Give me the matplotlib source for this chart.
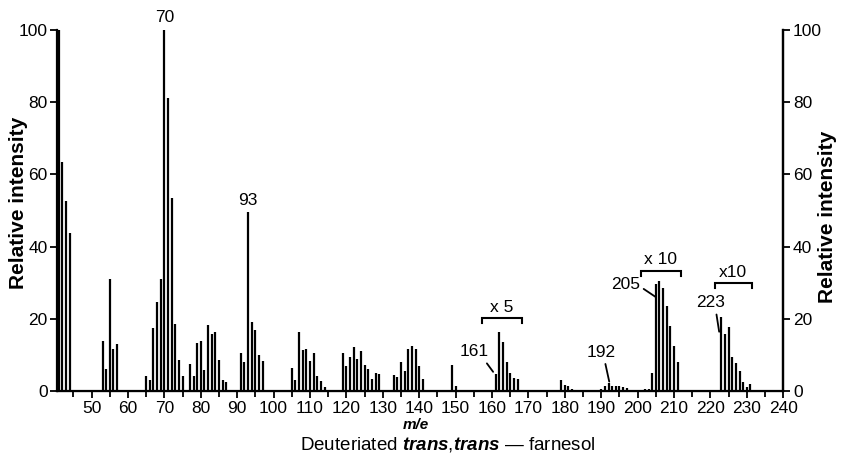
import matplotlib
matplotlib.use("Agg")
import matplotlib.pyplot as plt
import numpy as np

plt.rcParams['font.family'] = ['Liberation Sans', 'DejaVu Sans']
plt.rcParams['mathtext.fontset'] = 'custom'
plt.rcParams['mathtext.it'] = 'Liberation Sans:italic:bold'

# m/e values and relative intensities
# (161 group shown x5, 205 and 223 groups shown x10)
mz = [41, 42, 43, 44,
      53, 54, 55, 56, 57,
      65, 66, 67, 68, 69, 70, 71, 72, 73, 74, 75,
      77, 78, 79, 80, 81, 82, 83, 84, 85, 86, 87,
      91, 92, 93, 94, 95, 96, 97,
      105, 106, 107, 108, 109, 110, 111, 112, 113, 114,
      119, 120, 121, 122, 123, 124, 125, 126, 127, 128, 129,
      133, 134, 135, 136, 137, 138, 139, 140, 141,
      149, 150,
      161, 162, 163, 164, 165, 166, 167,
      179, 180, 181, 182,
      190, 191, 192, 193, 194, 195, 196, 197, 198,
      202, 203, 204, 205, 206, 207, 208, 209, 210, 211,
      223, 224, 225, 226, 227, 228, 229, 230, 231]
intensity = [100, 63.5, 52.5, 43.7,
             13.8, 6, 31, 11.5, 13,
             4.2, 3, 17.5, 24.5, 31, 100, 81, 53.5, 18.5, 8.7, 4.2,
             7.4, 4.2, 13.3, 13.8, 5.8, 18.4, 15.8, 16.4, 8.7, 3.1, 2.5,
             10.5, 8, 49.6, 19.2, 17, 10, 8.2,
             6.4, 3.1, 16.4, 11.3, 11.5, 8.4, 10.5, 4.2, 2.7, 1.2,
             10.4, 7, 9.4, 12.3, 8.8, 11, 7.2, 6, 3.2, 4.9, 4.6,
             4.5, 4, 8, 5.6, 11.6, 12.4, 11.5, 6.9, 3.4,
             7.2, 1.5,
             4.7, 16.3, 13.6, 8.1, 5.1, 3.6, 3.4,
             3, 1.6, 1.3, 0.6,
             0.6, 1.5, 2.2, 1.5, 1.3, 1.3, 1.1, 0.8, 0.4,
             0.5, 0.6, 5, 29.5, 30.5, 28.5, 23.5, 18, 12.5, 8,
             20.5, 15.8, 17.7, 9.3, 7.8, 5.4, 2.4, 1.1, 2]

peak_labels = [70, 93]
magnified = [(157.2, 168.3, 'x 5'), (200.9, 211.9, 'x 10'), (221.2, 231.3, 'x10')]
x_ticks = list(range(50, 241, 10))
y_ticks = [0, 20, 40, 60, 80, 100]

FS = 12.5

fig = plt.figure(figsize=(8.44, 4.66), dpi=100)
ax = fig.add_axes([0.068, 0.161, 0.860, 0.775])

ax.vlines(mz, 0, intensity, color='black', linewidth=1.6)

ax.set_xlim(40.6, 240)
ax.set_ylim(0, 100)
ax.set_xticks(x_ticks)
ax.set_xticks(np.arange(45, 240, 10), minor=True)
ax.set_yticks(y_ticks)
ax.tick_params(axis='both', which='both', direction='out', length=5, width=1.3,
               labelsize=FS, pad=2)
ax.tick_params(axis='x', which='minor', length=4)
ax.spines['top'].set_visible(False)
for s in ['left', 'right', 'bottom']:
    ax.spines[s].set_linewidth(1.6)

ax2 = ax.twinx()
ax2.set_ylim(0, 100)
ax2.set_yticks(y_ticks)
ax2.tick_params(axis='y', direction='out', length=5, width=1.3, labelsize=FS, pad=2)
ax2.spines['top'].set_visible(False)
ax2.spines['right'].set_linewidth(1.6)

# axis titles on both sides
fig.text(0.022, 0.565, 'Relative intensity', rotation=90, ha='center', va='center',
         fontsize=15, fontweight='bold')
fig.text(0.981, 0.535, 'Relative intensity', rotation=90, ha='center', va='center',
         fontsize=15, fontweight='bold')

# peak labels
for p in peak_labels:
    h = intensity[mz.index(p)]
    ax.text(p, h + 1.2, str(p), ha='center', va='bottom', fontsize=FS,
            clip_on=False)

# labels with leader lines
leader = dict(arrowstyle='-', lw=1.3, shrinkA=1, shrinkB=0)
ax.annotate('161', xy=(160.3, 5.3), xytext=(155.0, 10.8), ha='center', va='center',
            fontsize=FS, arrowprops=dict(leader, relpos=(0.85, 0)))
ax.annotate('192', xy=(192.2, 2.6), xytext=(190.1, 10.7), ha='center', va='center',
            fontsize=FS, arrowprops=dict(leader, relpos=(0.6, 0)))
ax.annotate('205', xy=(205.0, 26.0), xytext=(196.6, 29.4), ha='center', va='center',
            fontsize=FS, arrowprops=dict(leader, relpos=(1.0, 0.4)))
ax.annotate('223', xy=(222.4, 16.4), xytext=(219.9, 24.4), ha='center', va='center',
            fontsize=FS, arrowprops=dict(leader, relpos=(0.7, 0)))

# brackets marking magnified regions
bracket_y = {'x 5': 20.1, 'x 10': 33.2, 'x10': 29.8}
for x0, x1, lab in magnified:
    y = bracket_y[lab]
    ax.plot([x0, x0, x1, x1], [y - 1.3, y, y, y - 1.3], color='black', lw=1.5,
            solid_joinstyle='miter')
    ax.text((x0 + x1) / 2, y + 1.0, lab, ha='center', va='bottom', fontsize=FS)

fig.text(0.493, 0.089, 'm/e', ha='center', va='center', fontsize=11,
         fontweight='bold', fontstyle='italic')
fig.text(0.530, 0.046, r'Deuteriated $\it{trans}$,$\it{trans}$ — farnesol',
         ha='center', va='center', fontsize=13.5)

fig.savefig('out.png', dpi=100, facecolor='white')
